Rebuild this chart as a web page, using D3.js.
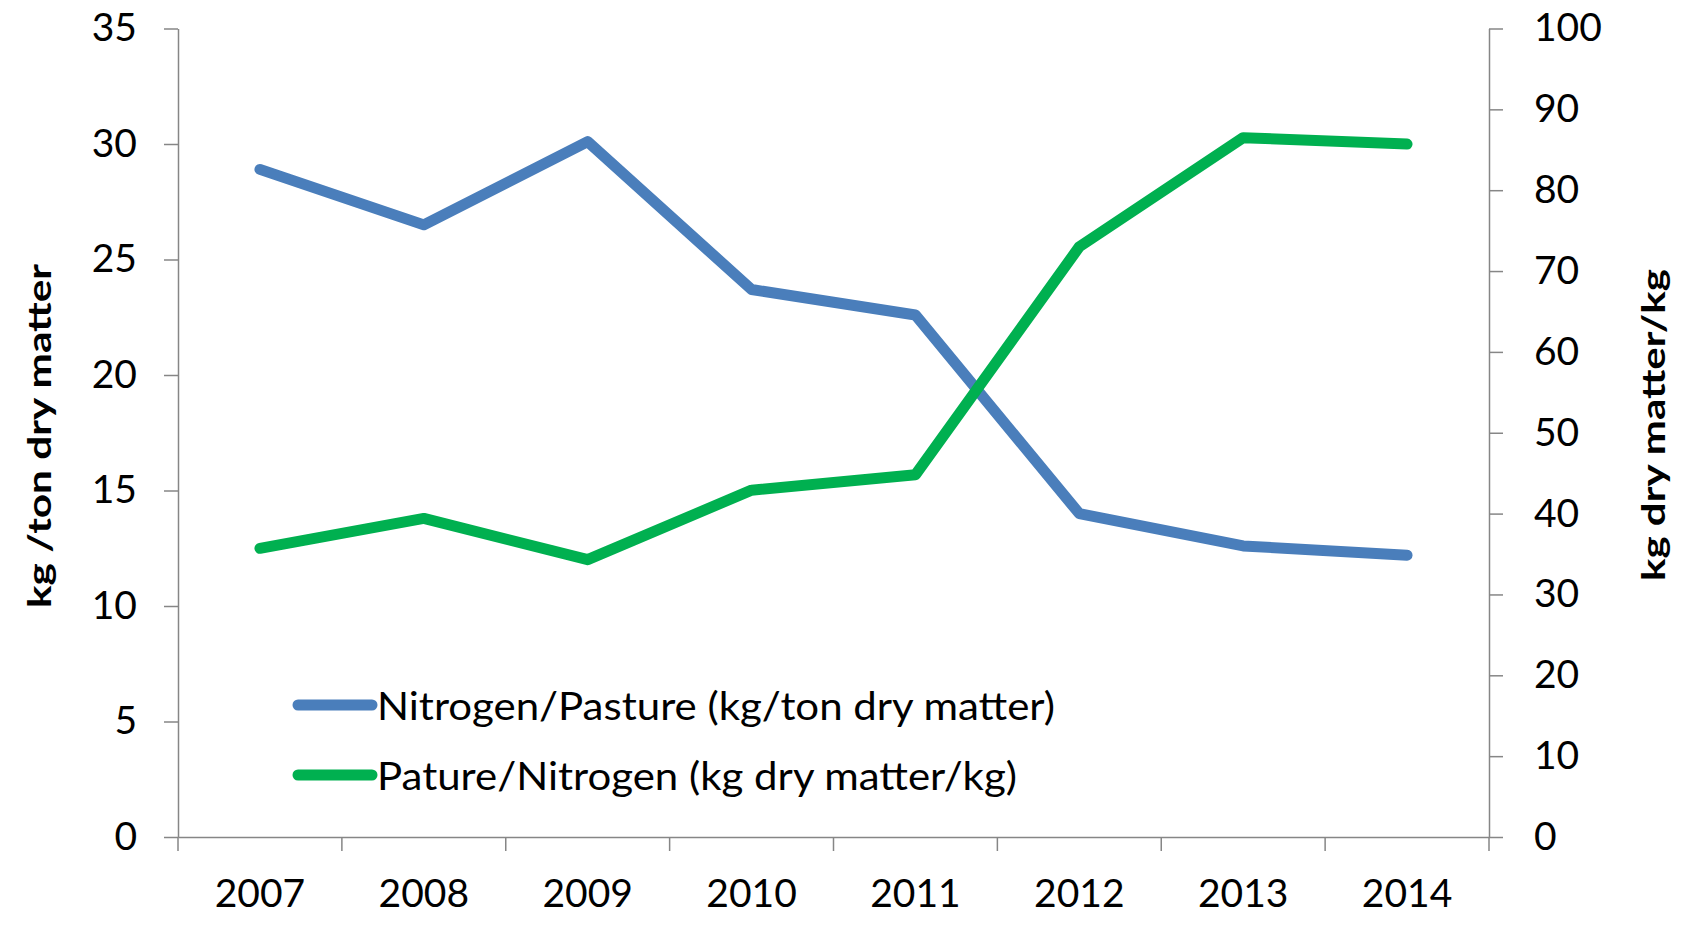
<!DOCTYPE html>
<html><head><meta charset="utf-8">
<script src="https://cdn.jsdelivr.net/npm/d3@7"></script>
<style>
html,body{margin:0;padding:0;background:#fff;}
svg{display:block;}
text{font-family:Lato, "Liberation Sans", sans-serif;fill:#000;}
</style></head>
<body>
<svg id="chart" width="1688" height="926"></svg>
<script>
const years = ["2007","2008","2009","2010","2011","2012","2013","2014"];
const nitrogenPerPasture = [28.9, 26.5, 30.1, 23.7, 22.6, 14.0, 12.6, 12.2];
const pastureNitrogen = [35.7, 39.4, 34.3, 42.9, 44.8, 73.0, 86.5, 85.7];
const leftTicks = [0,5,10,15,20,25,30,35];
const rightTicks = [0,10,20,30,40,50,60,70,80,90,100];
const seriesNames = ["Nitrogen/Pasture (kg/ton dry matter)", "Pature/Nitrogen (kg dry matter/kg)"];
const leftTitle = "kg /ton dry matter";
const rightTitle = "kg dry matter/kg";

const svg = d3.select("#chart");
const L = 178, R = 1489, T = 28.5, B = 837;
const axisColor = "#868686";
const blue = "#4A7EBB", green = "#00B050";

const x = d3.scaleBand().domain(years).range([L, R]).padding(0);
const yL = d3.scaleLinear().domain([0, 35]).range([B, T]);
const yR = d3.scaleLinear().domain([0, 100]).range([B, T]);

function styleAxis(g){
  g.selectAll("path.domain").attr("stroke", axisColor).attr("stroke-width", 1.5);
  g.selectAll(".tick line").attr("stroke", axisColor).attr("stroke-width", 1.5);
  g.selectAll(".tick text").attr("font-size", 39).attr("font-family", "Lato, 'Liberation Sans', sans-serif").attr("fill", "#000");
}

// left axis
const gL = svg.append("g").attr("transform", `translate(${L},0)`)
  .call(d3.axisLeft(yL).tickValues(leftTicks).tickSize(14).tickSizeOuter(0).tickPadding(27));
styleAxis(gL);

// right axis
const gR = svg.append("g").attr("transform", `translate(${R},0)`)
  .call(d3.axisRight(yR).tickValues(rightTicks).tickSize(14).tickSizeOuter(0).tickPadding(31));
styleAxis(gR);

// bottom axis: labels at centers, ticks at band edges
const gB = svg.append("g").attr("transform", `translate(0,${B})`)
  .call(d3.axisBottom(x).tickSize(0).tickSizeOuter(0).tickPadding(42));
styleAxis(gB);
gB.selectAll(".tick text").attr("dy", "0.71em");
const edges = years.map(d => x(d)).concat([x(years[years.length-1]) + x.bandwidth()]);
gB.selectAll("line.edge").data(edges).enter().append("line")
  .attr("class","edge")
  .attr("x1", d => d).attr("x2", d => d).attr("y1", 0).attr("y2", 14)
  .attr("stroke", axisColor).attr("stroke-width", 1.5);

// lines
const cx = d => x(d) + x.bandwidth()/2;
const lineL = d3.line().x((d,i) => cx(years[i])).y(d => yL(d));
const lineR = d3.line().x((d,i) => cx(years[i])).y(d => yR(d));

svg.append("path").datum(nitrogenPerPasture).attr("d", lineL)
  .attr("fill","none").attr("stroke", blue).attr("stroke-width", 11)
  .attr("stroke-linecap","round").attr("stroke-linejoin","round");
svg.append("path").datum(pastureNitrogen).attr("d", lineR)
  .attr("fill","none").attr("stroke", green).attr("stroke-width", 11)
  .attr("stroke-linecap","round").attr("stroke-linejoin","round");

// axis titles
svg.append("text").attr("transform", "translate(38,436) rotate(-90)")
  .attr("text-anchor","middle").attr("dominant-baseline","central")
  .attr("font-size", 33).attr("font-weight","bold")
  .attr("textLength", 344).attr("lengthAdjust","spacingAndGlyphs")
  .text(leftTitle);
svg.append("text").attr("transform", "translate(1652,425) rotate(-90)")
  .attr("text-anchor","middle").attr("dominant-baseline","central")
  .attr("font-size", 33).attr("font-weight","bold")
  .attr("textLength", 312).attr("lengthAdjust","spacingAndGlyphs")
  .text(rightTitle);

// legend
const legend = [
  {name: seriesNames[0], color: blue, y: 705, len: 678},
  {name: seriesNames[1], color: green, y: 775, len: 640}
];
const lg = svg.append("g");
legend.forEach(d => {
  lg.append("line").attr("x1", 298).attr("x2", 372).attr("y1", d.y).attr("y2", d.y)
    .attr("stroke", d.color).attr("stroke-width", 11).attr("stroke-linecap","round");
  lg.append("text").attr("x", 377).attr("y", d.y).attr("dominant-baseline","central")
    .attr("font-size", 38).attr("textLength", d.len).attr("lengthAdjust","spacingAndGlyphs")
    .text(d.name);
});
</script>
</body></html>
